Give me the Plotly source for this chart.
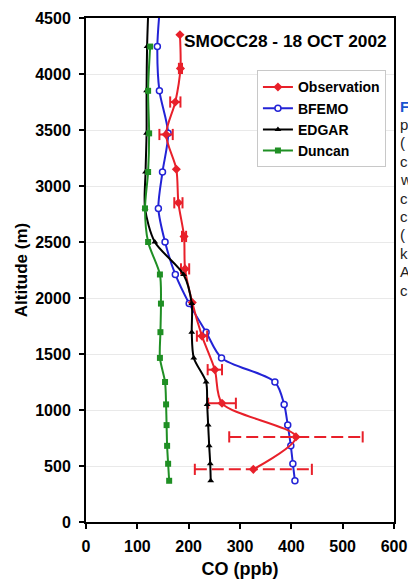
import plotly.graph_objects as go

# ---------------- data ----------------
x_ticks = [0, 100, 200, 300, 400, 500, 600]
y_ticks = [0, 500, 1000, 1500, 2000, 2500, 3000, 3500, 4000, 4500]

model_alt = [4650, 4245, 3850, 3470, 3125, 2800, 2500, 2210, 1950, 1695, 1465, 1250, 1050, 865, 680, 520, 368]
bfemo_co = [145, 139, 143, 160, 149, 141, 154, 174, 201, 234, 264, 368, 386, 393, 399, 403, 407]
edgar_co = [122, 119, 118, 118, 116, 115, 134, 190, 206, 206, 210, 234, 236, 238, 240, 242, 243]

duncan_alt = [4245, 3850, 3470, 3125, 2800, 2500, 2210, 1950, 1695, 1465, 1250, 1050, 865, 680, 520, 368]
duncan_co = [125, 121, 123, 121, 115, 121, 144, 146, 145, 144, 154, 156, 157, 158, 160, 162]

obs_alt = [4350, 4050, 3750, 3460, 3150, 2850, 2550, 2260, 1960, 1660, 1360, 1060, 760, 470]
obs_co = [183, 184, 174, 156, 176, 180, 191, 193, 207, 226, 251, 265, 409, 326]
obs_err = [0, 3, 10, 13, 0, 8, 4, 8, 0, 10, 14, 27, 130, 114]

side_letters = ["F", "p", "(", "c", "w", "c", "c", "(", "k", "A", "c"]

# ---------------- styles ----------------
RED = "#e8202a"
BLUE = "#2323d6"
BLACK = "#000000"
GREEN = "#1f8f24"
FONT = "Liberation Sans, Arial, sans-serif"

fig = go.Figure()

fig.add_trace(go.Scatter(
    x=bfemo_co, y=model_alt, name="BFEMO", mode="lines+markers",
    line=dict(color=BLUE, width=2, shape="spline", smoothing=0.8),
    marker=dict(symbol="circle", size=6, color="white", line=dict(color=BLUE, width=1.5)),
    legendrank=2,
))

for xv, yv, ev in zip(obs_co, obs_alt, obs_err):
    if ev <= 0:
        continue
    fig.add_trace(go.Scatter(
        x=[xv - ev, xv + ev], y=[yv, yv], mode="lines+markers",
        line=dict(color=RED, width=2, dash="12px,5px" if ev > 20 else "solid"),
        marker=dict(symbol="line-ns", size=8, color=RED, line=dict(color=RED, width=2)),
        showlegend=False, hoverinfo="skip",
    ))

fig.add_trace(go.Scatter(
    x=obs_co, y=obs_alt, name="Observation", mode="lines+markers",
    line=dict(color=RED, width=2, shape="spline", smoothing=0.8),
    marker=dict(symbol="diamond", size=7, color=RED),
    legendrank=1,
))

fig.add_trace(go.Scatter(
    x=edgar_co, y=model_alt, name="EDGAR", mode="lines+markers",
    line=dict(color=BLACK, width=2, shape="spline", smoothing=0.8),
    marker=dict(symbol="triangle-up", size=6, color=BLACK),
    legendrank=3,
))

fig.add_trace(go.Scatter(
    x=duncan_co, y=duncan_alt, name="Duncan", mode="lines+markers",
    line=dict(color=GREEN, width=2, shape="spline", smoothing=0.8),
    marker=dict(symbol="square", size=6, color=GREEN),
    legendrank=4,
))

annotations = [dict(
    text="SMOCC28 - 18 OCT 2002", xref="paper", yref="paper",
    x=0.311, y=0.954, xanchor="left", yanchor="middle", showarrow=False,
    font=dict(family=FONT, size=17.3, color="black", weight="bold"),
)]
for i, ch in enumerate(side_letters):
    annotations.append(dict(
        text=ch, xref="paper", yref="paper",
        x=1.012, y=1 - (106 + i * 18.4 - 18) / 504, xanchor="left", yanchor="middle",
        showarrow=False,
        font=dict(family=FONT, size=15, color="#1a55d0" if i == 0 else "#222222",
                  weight="bold" if i == 0 else "normal"),
    ))

fig.update_layout(
    width=408, height=579,
    margin=dict(l=86, r=14, t=18, b=57),
    paper_bgcolor="white", plot_bgcolor="white",
    font=dict(family=FONT, color="black"),
    showlegend=True,
    legend=dict(
        x=0.555, y=0.896, xanchor="left", yanchor="top",
        bgcolor="white", bordercolor="#c8c8c8", borderwidth=1,
        font=dict(family=FONT, size=14, weight="bold", color="black"),
        itemwidth=30, tracegroupgap=0,
    ),
    annotations=annotations,
)

fig.update_xaxes(
    range=[0, 600], tickvals=x_ticks, ticktext=[str(v) for v in x_ticks],
    showline=True, linecolor="black", linewidth=2, mirror=True,
    ticks="outside", ticklen=5, tickwidth=1.5, tickcolor="black",
    showgrid=False, zeroline=False, automargin=False, ticklabelstandoff=4,
    tickfont=dict(family=FONT, size=16, weight="bold", color="black"),
    title=dict(text="CO (ppb)", font=dict(family=FONT, size=18, weight="bold"), standoff=10),
)
fig.update_yaxes(
    range=[0, 4500], tickvals=y_ticks, ticktext=[str(v) for v in y_ticks],
    showline=True, linecolor="black", linewidth=2, mirror=True,
    ticks="outside", ticklen=5, tickwidth=1.5, tickcolor="black",
    showgrid=True, gridcolor="#e9e9e9", gridwidth=1, zeroline=False, automargin=False,
    ticklabelstandoff=5,
    tickfont=dict(family=FONT, size=16, weight="bold", color="black"),
    title=dict(text="Altitude (m)", font=dict(family=FONT, size=17, weight="bold"), standoff=3),
)

fig.write_html(
    "out.html",
    config={"displayModeBar": False},
    post_script="document.body.style.margin='0px';document.body.style.padding='0px';",
)
